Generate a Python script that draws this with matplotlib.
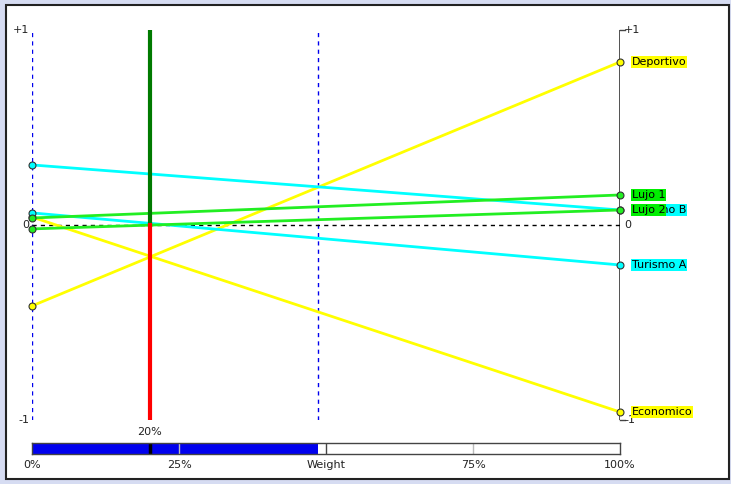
import matplotlib
matplotlib.use("Agg")
import matplotlib.pyplot as plt
from matplotlib.patches import Rectangle

# sensitivity of each alternative at weight = 0% (left) and 100% (right)
alternatives = ["Deportivo", "Economico", "Turismo B", "Turismo A", "Lujo 1", "Lujo 2"]
value_at_0 = [-0.415, 0.041, 0.308, 0.062, 0.036, -0.020]
value_at_100 = [0.836, -0.959, 0.077, -0.205, 0.154, 0.077]
line_colors = ["#ffff00", "#ffff00", "#00ffff", "#00ffff", "#22ee22", "#22ee22"]
label_colors = ["#ffff00", "#ffff00", "#00ffff", "#00ffff", "#00ee00", "#00ee00"]

current_weight = 0.20
weight_bar = 0.486
bar_ticks = [0.0, 0.25, 0.5, 0.75, 1.0]
bar_tick_labels = ["0%", "25%", "Weight", "75%", "100%"]

W, H = 731, 484
plt.rcParams["font.family"] = ["DejaVu Sans"]
fs = 8

fig = plt.figure(figsize=(W / 100, H / 100), dpi=100, facecolor="#d6dcf2")
fig.patches.append(Rectangle((6 / W, 5 / H), 723 / W, 474 / H, transform=fig.transFigure,
                             facecolor="white", edgecolor="#222222", lw=1.5, zorder=-5))

# main plot: x = weight 0..1, y = -1..+1
ax = fig.add_axes([32 / W, (H - 420) / H, 588 / W, 390 / H])
ax.set_xlim(0, 1)
ax.set_ylim(-1, 1)
ax.axis("off")

ax.plot([0, 0], [-1, 1], color="#0000ee", lw=1, dashes=(3, 3))
ax.plot([weight_bar, weight_bar], [-1, 1], color="#0000ee", lw=1, dashes=(3, 3))
ax.plot([1, 1], [-1, 1], color="#444444", lw=1.3)
ax.plot([1, 1.008], [1, 1], color="#444444", lw=1, clip_on=False)
ax.plot([1, 1.008], [-1, -1], color="#444444", lw=1, clip_on=False)
ax.plot([0, 1], [0, 0], color="black", lw=1, dashes=(3, 3))

for name, v0, v1, c in zip(alternatives, value_at_0, value_at_100, line_colors):
    ax.plot([0, 1], [v0, v1], color=c, lw=2, zorder=3,
            marker="o", ms=5, mfc=c, mec="#333333", mew=0.8, clip_on=False)

ax.plot([current_weight, current_weight], [0, 1], color="#007a00", lw=3, zorder=4)
ax.plot([current_weight, current_weight], [-1, 0], color="#ff0000", lw=3, zorder=4)

# right-side labels (Turismo B drawn first so Lujo 2 covers it)
order = [2, 0, 1, 3, 4, 5]
for i in order:
    ax.annotate(alternatives[i], xy=(1, value_at_100[i]), xytext=(12, 0),
                textcoords="offset pixels", va="center", ha="left", fontsize=fs,
                bbox=dict(facecolor=label_colors[i], edgecolor="none", pad=0.5),
                annotation_clip=False, zorder=5)

for y, t in [(1, "+1"), (0, "0"), (-1, "-1")]:
    ax.annotate(t, xy=(0, y), xytext=(-3, 0), textcoords="offset pixels",
                ha="right", va="center", fontsize=fs, color="#222222", annotation_clip=False)
    ax.annotate(t, xy=(1, y), xytext=(4, 0), textcoords="offset pixels",
                ha="left", va="center", fontsize=fs, color="#222222", annotation_clip=False)

# weight slider bar
bx = fig.add_axes([32 / W, (H - 454) / H, 588 / W, 11 / H])
bx.set_xlim(0, 1)
bx.set_ylim(0, 1)
bx.set_xticks([])
bx.set_yticks([])
for s in bx.spines.values():
    s.set_color("#444444")
    s.set_linewidth(1)
bx.barh(0.5, weight_bar, height=1, left=0, color="#0000ee")
for t in bar_ticks[1:-1]:
    bx.axvline(t, color="#bbbbbb" if t != 0.5 else "#444444", lw=1)
bx.axvline(current_weight, color="black", lw=2.5)
bx.annotate(f"{current_weight:.0%}", xy=(current_weight, 1), xytext=(0, 11),
            textcoords="offset pixels", ha="center", va="center", fontsize=fs,
            color="#222222", annotation_clip=False)
for t, lab in zip(bar_ticks, bar_tick_labels):
    bx.annotate(lab, xy=(t, 0), xytext=(0, -11), textcoords="offset pixels",
                ha="center", va="center", fontsize=fs, color="#222222", annotation_clip=False)

fig.savefig("out.png", dpi=100, facecolor=fig.get_facecolor())
